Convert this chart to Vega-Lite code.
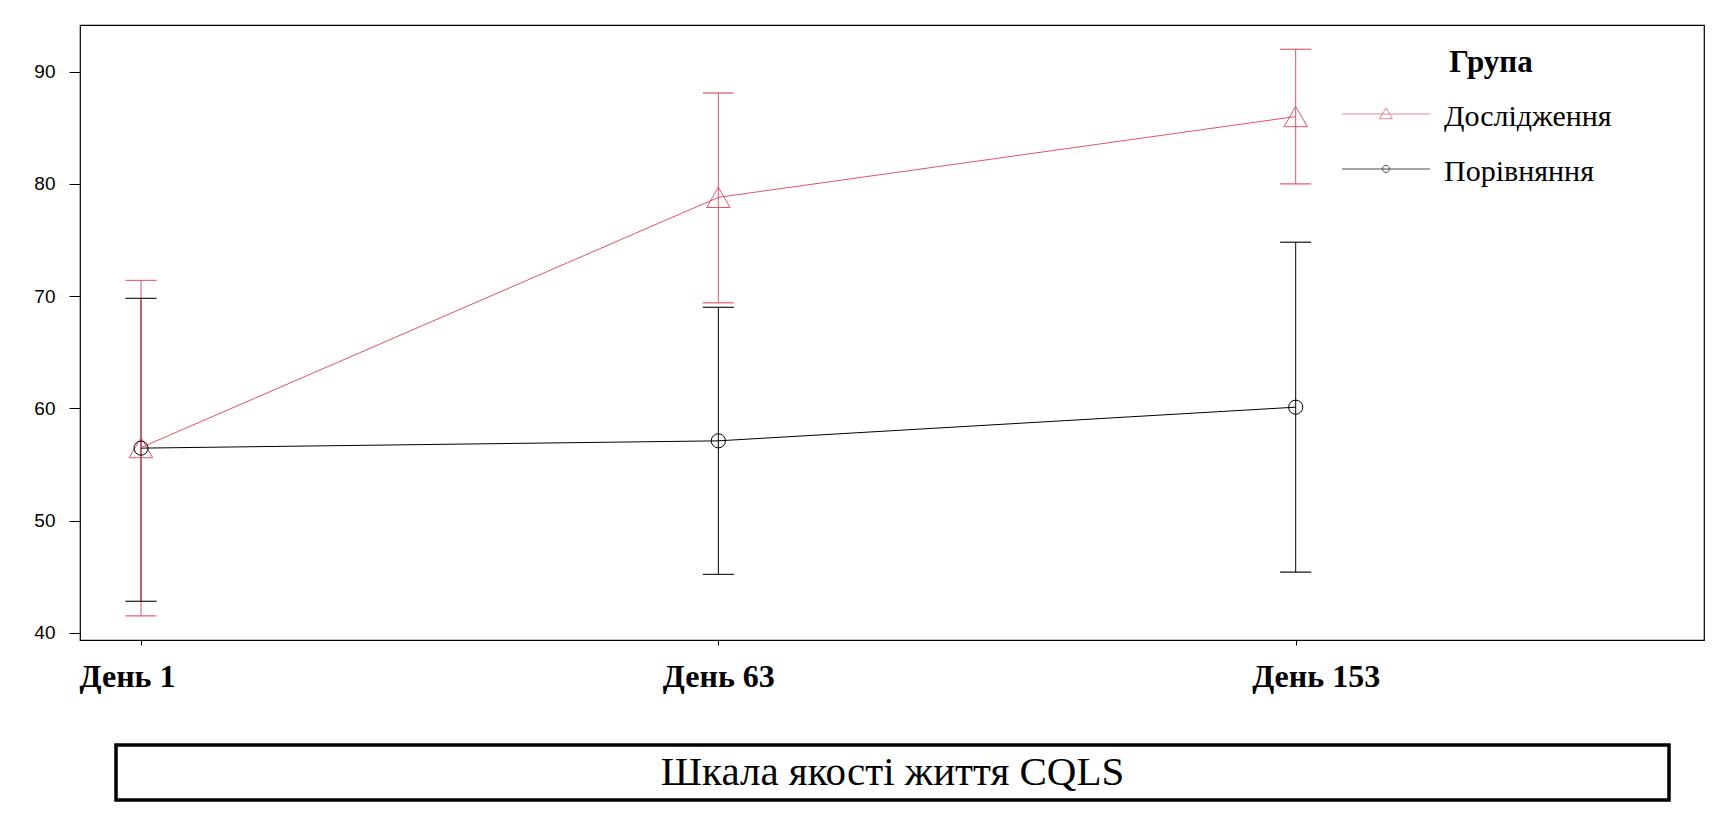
{
  "$schema": "https://vega.github.io/schema/vega-lite/v6.json",
  "background": "white",
  "padding": {"left": 33, "top": 24, "right": 0, "bottom": 0},
  "config": {"view": {"stroke": null}, "font": "Liberation Serif"},
  "spacing": 50,
  "vconcat": [
    {
      "width": 1624,
      "height": 615,
      "view": {"stroke": "black", "strokeWidth": 1.2},
      "data": {
        "values": [
          {"day": "День 1", "group": "Порівняння", "mean": 56.45, "lo": 42.8, "hi": 69.8},
          {"day": "День 63", "group": "Порівняння", "mean": 57.1, "lo": 45.2, "hi": 69.0},
          {"day": "День 153", "group": "Порівняння", "mean": 60.1, "lo": 45.4, "hi": 74.8},
          {"day": "День 1", "group": "Дослідження", "mean": 56.5, "lo": 41.5, "hi": 71.4},
          {"day": "День 63", "group": "Дослідження", "mean": 78.8, "lo": 69.4, "hi": 88.1},
          {"day": "День 153", "group": "Дослідження", "mean": 86.0, "lo": 80.0, "hi": 92.0}
        ]
      },
      "encoding": {
        "x": {
          "field": "day",
          "type": "ordinal",
          "scale": {"type": "point", "domain": ["День 1", "День 63", "День 153"], "range": [61, 1215.7], "padding": 0},
          "axis": {
            "title": null,
            "domain": false,
            "grid": false,
            "tickSize": 5,
            "tickColor": "black",
            "labelAngle": 0,
            "labelFont": "Liberation Serif",
            "labelFontWeight": "bold",
            "labelFontSize": 32,
            "labelColor": "black",
            "labelBaseline": "alphabetic",
            "labelPadding": 41,
            "labelOffset": {
              "condition": [
                {"test": "datum.value === 'День 1'", "value": -14},
                {"test": "datum.value === 'День 153'", "value": 20}
              ],
              "value": 0
            }
          }
        },
        "color": {
          "field": "group",
          "type": "nominal",
          "scale": {"domain": ["Дослідження", "Порівняння"], "range": ["#DF536B", "#000000"]},
          "legend": {
            "title": "Група",
            "orient": "none",
            "legendX": 1291,
            "legendY": 23,
            "padding": 0,
            "titleFont": "Liberation Serif",
            "titleFontWeight": "bold",
            "titleFontSize": 31,
            "titleColor": "black",
            "titleAnchor": "middle",
            "titlePadding": 23,
            "labelFont": "Liberation Serif",
            "labelFontSize": 30,
            "labelColor": "black",
            "labelLimit": 400,
            "labelOffset": 43,
            "rowPadding": 25,
            "symbolSize": 400,
            "symbolStrokeWidth": 1,
            "symbolFillColor": "transparent"
          }
        }
      },
      "layer": [
        {
          "transform": [{"filter": "false"}],
          "mark": {"type": "point", "filled": false, "strokeWidth": 1},
          "encoding": {
            "y": {
              "field": "mean",
              "type": "quantitative",
              "scale": {"domain": [39.35, 94.16], "nice": false, "zero": false},
              "axis": {
                "title": null,
                "values": [40, 50, 60, 70, 80, 90],
                "domain": false,
                "grid": false,
                "tickSize": 11,
                "tickColor": "black",
                "labelFont": "Liberation Sans",
                "labelFontSize": 19,
                "labelColor": "black",
                "labelPadding": 14
              }
            },
            "shape": {
              "field": "group",
              "type": "nominal",
              "scale": {
                "domain": ["Дослідження", "Порівняння"],
                "range": [
                  "M-4.4,-0.3H4.4M0,-0.9L-0.65,0.17L0.65,0.17Z",
                  "M-4.4,-0.3H4.4M-0.35,-0.3A0.35,0.35,0,1,1,0.35,-0.3A0.35,0.35,0,1,1,-0.35,-0.3"
                ]
              },
              "legend": null
            }
          }
        },
        {
          "mark": {"type": "rule", "strokeWidth": 1},
          "encoding": {
            "y": {"field": "lo", "type": "quantitative"},
            "y2": {"field": "hi"}
          }
        },
        {
          "mark": {"type": "tick", "filled": false, "thickness": 0.001, "size": 31, "strokeWidth": 1},
          "encoding": {"y": {"field": "lo", "type": "quantitative"}}
        },
        {
          "mark": {"type": "tick", "filled": false, "thickness": 0.001, "size": 31, "strokeWidth": 1},
          "encoding": {"y": {"field": "hi", "type": "quantitative"}}
        },
        {
          "mark": {"type": "line", "strokeWidth": 1},
          "encoding": {"y": {"field": "mean", "type": "quantitative"}}
        },
        {
          "transform": [{"filter": "datum.group === 'Дослідження'"}],
          "mark": {"type": "point", "shape": "triangle-up", "size": 550, "filled": false, "strokeWidth": 1, "opacity": 1},
          "encoding": {"y": {"field": "mean", "type": "quantitative"}}
        },
        {
          "transform": [{"filter": "datum.group === 'Порівняння'"}],
          "mark": {"type": "point", "shape": "circle", "size": 200, "filled": false, "strokeWidth": 1, "opacity": 1},
          "encoding": {"y": {"field": "mean", "type": "quantitative"}}
        }
      ]
    },
    {
      "spacing": 0,
      "hconcat": [
        {
          "width": 34,
          "height": 55,
          "view": {"stroke": null},
          "data": {"values": []},
          "mark": "point"
        },
        {
          "width": 1553,
          "height": 55,
          "view": {"stroke": "black", "strokeWidth": 3.5},
          "data": {"values": [{"caption": "Шкала якості життя CQLS"}]},
          "mark": {"type": "text", "font": "Liberation Serif", "fontSize": 41, "color": "black"},
          "encoding": {"text": {"field": "caption", "type": "nominal"}}
        }
      ]
    }
  ]
}
